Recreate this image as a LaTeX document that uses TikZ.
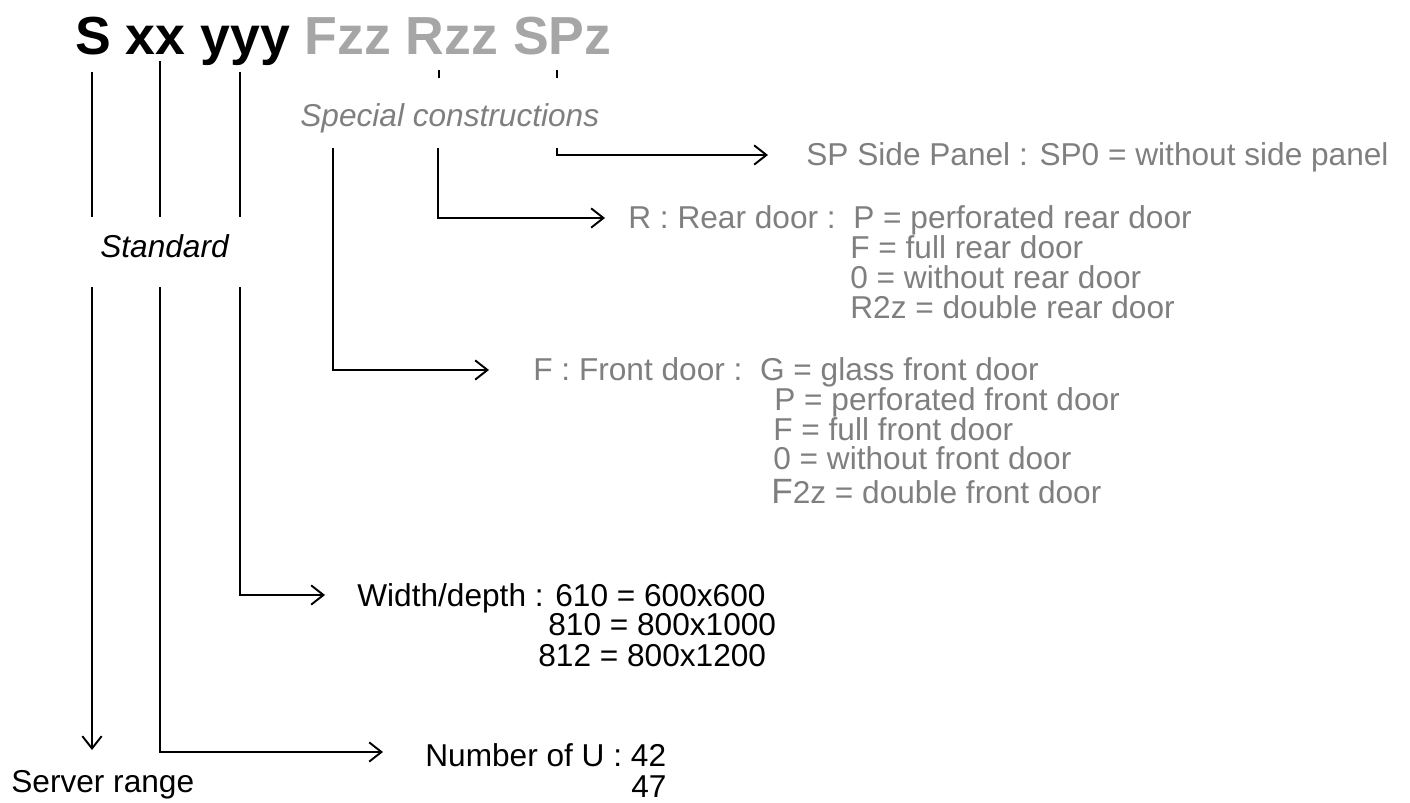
\documentclass[tikz,border=0pt]{standalone}
\usepackage{fontspec}
\setmainfont{Liberation Sans}
\usetikzlibrary{positioning,arrows.meta}
\definecolor{optgray}{HTML}{7F7F7F}
\definecolor{headgray}{HTML}{A6A6A6}

\begin{document}
\begin{tikzpicture}[x=0.02cm, y=-0.02cm,
    stem/.style={line width=1.1pt},
    conn/.style={line width=1.1pt, -{Straight Barb[length=7pt,width=11pt]}},
    lbl/.style={inner sep=0pt, anchor=base west, font=\fontsize{18}{20}\selectfont},
    opt/.style={lbl, text=optgray}]
    \useasboundingbox (0,0) rectangle (1410,803);
    \node[lbl, font=\fontsize{30.5}{32}\selectfont\bfseries] (code) at (75,55)
      {S xx yyy \textcolor{headgray}{Fzz Rzz SPz}};
    % standard part of the code
    \foreach \n/\x/\t in {s/92/72, xx/160/61, yyy/240/72} {
      \coordinate (\n-a) at (\x,\t);
      \coordinate (\n-b) at (\x,217);
      \coordinate (\n-c) at (\x,287);
      \draw[stem] (\n-a) -- (\n-b);
    }
    \node[lbl, font=\fontsize{18}{20}\selectfont\itshape] (std) at (100,258) {Standard};
    \coordinate (s-tip) at (92,750);
    \coordinate (xx-tip) at (383,752);
    \coordinate (yyy-tip) at (325,595);
    \draw[conn] (s-c) -- (s-tip);
    \draw[conn] (xx-c) |- (xx-tip);
    \draw[conn] (yyy-c) |- (yyy-tip);
    \node[lbl] (range) at (11,792) {Server range};
    \node[lbl] (units) at (425,766) {Number of U : 42};
    \node[lbl] (units2) at (631,797) {47};
    \node[lbl] (wd) at (357,606) {Width/depth : 610 = 600x600};
    \node[lbl] (wd2) at (548,636) {810 = 800x1000};
    \node[lbl] (wd3) at (538,666) {812 = 800x1200};
    % special constructions
    \foreach \x in {439,557}
      \draw[line width=0.8pt] (\x,70) -- (\x,78);
    \node[opt, font=\fontsize{18}{20}\selectfont\itshape] (spec) at (300,127) {Special constructions};
    \coordinate (sp-a) at (557,148);
    \coordinate (sp-tip) at (768,155);
    \coordinate (r-a) at (438,148);
    \coordinate (r-tip) at (605,218);
    \coordinate (f-a) at (333,148);
    \coordinate (f-tip) at (489,370);
    \draw[conn] (sp-a) |- (sp-tip);
    \draw[conn] (r-a) |- (r-tip);
    \draw[conn] (f-a) |- (f-tip);
    \node[opt] (sp) at (806,166) {SP Side Panel : SP0 = without side panel};
    \node[opt] (rear) at (628,229) {R : Rear door :\ \ P = perforated rear door};
    \node[opt] (rear2) at (850,259) {F = full rear door};
    \node[opt] (rear3) at (850,289) {0 = without rear door};
    \node[opt] (rear4) at (850,319) {R2z = double rear door};
    \node[opt] (front) at (533,381) {F : Front door :\ \ G = glass front door};
    \node[opt] (front2) at (774,411) {P = perforated front door};
    \node[opt] (front3) at (773,441) {F = full front door};
    \node[opt] (front4) at (773,470) {0 = without front door};
    \node[opt] (front5) at (771,504) {{\fontsize{20}{22}\selectfont F}2z = double front door};
  \end{tikzpicture}
\end{document}
